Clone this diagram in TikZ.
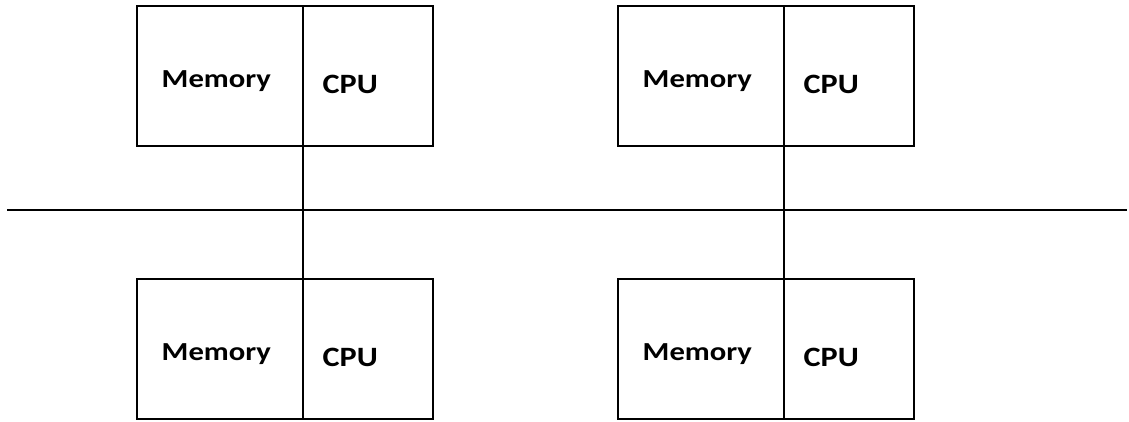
\documentclass[tikz,border=0pt]{standalone}
\usepackage{fontspec}
\setmainfont{Carlito}
\begin{document}
\begin{tikzpicture}[x=1pt,y=-1pt,line width=1.2pt,
  memb/.style={draw,rectangle,minimum width=166pt,minimum height=140pt,inner sep=0pt,outer sep=0pt,anchor=north west},
  cpub/.style={draw,rectangle,minimum width=130pt,minimum height=140pt,inner sep=0pt,outer sep=0pt,anchor=north west},
  mlbl/.style={font=\bfseries\fontsize{26}{30}\selectfont,anchor=base west,inner sep=0pt,xscale=1.18},
  clbl/.style={font=\bfseries\fontsize{28}{32}\selectfont,anchor=base west,inner sep=0pt,xscale=1.15}]
\useasboundingbox (0,0) rectangle (1129,421);
% top-left
\node[memb] (m1) at (137,6) {};
\node[cpub] (c1) at (303,6) {};
% top-right
\node[memb] (m2) at (618,6) {};
\node[cpub] (c2) at (784,6) {};
% bottom-left
\node[memb] (m3) at (137,279) {};
\node[cpub] (c3) at (303,279) {};
% bottom-right
\node[memb] (m4) at (618,279) {};
\node[cpub] (c4) at (784,279) {};
% labels
\node[mlbl] (t1) at (161,87) {Memory};
\node[clbl] (u1) at (322,93) {CPU};
\node[mlbl] (t2) at (642,87) {Memory};
\node[clbl] (u2) at (803,93) {CPU};
\node[mlbl] (t3) at (161,360) {Memory};
\node[clbl] (u3) at (322,366) {CPU};
\node[mlbl] (t4) at (642,360) {Memory};
\node[clbl] (u4) at (803,366) {CPU};
% bus
\coordinate (bl) at (7,210);
\coordinate (br) at (1127,210);
\draw (bl) -- (br);
\draw (c1.south west) -- (c3.north west);
\draw (c2.south west) -- (c4.north west);
\end{tikzpicture}
\end{document}
